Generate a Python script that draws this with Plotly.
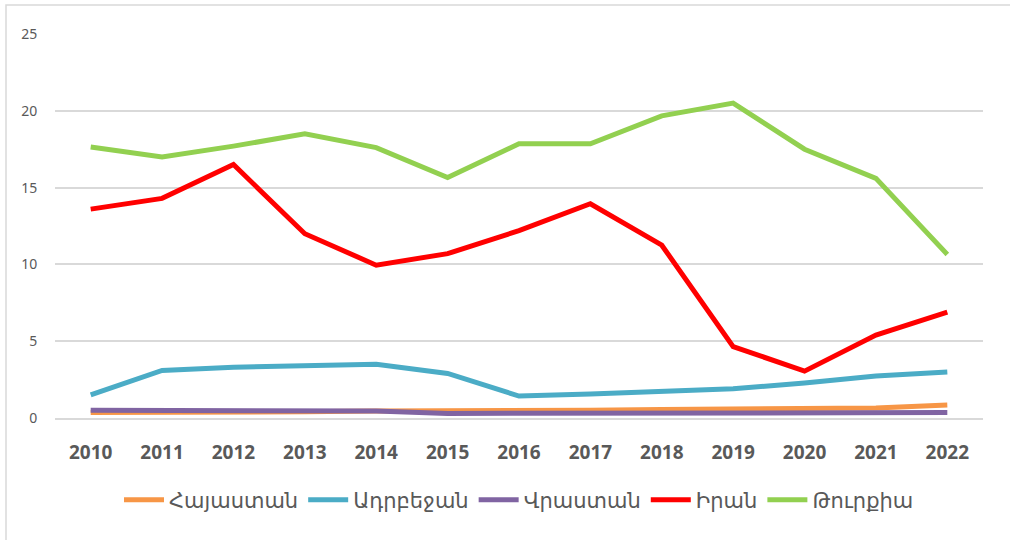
import plotly.graph_objects as go

years = ["2010", "2011", "2012", "2013", "2014", "2015", "2016", "2017", "2018", "2019", "2020", "2021", "2022"]
armenia = [0.35, 0.35, 0.35, 0.4, 0.45, 0.45, 0.45, 0.5, 0.55, 0.6, 0.65, 0.65, 0.85]
azerbaijan = [1.5, 3.1, 3.3, 3.4, 3.5, 2.9, 1.43, 1.56, 1.7, 1.9, 2.28, 2.73, 3.0]
georgia = [0.5, 0.5, 0.5, 0.45, 0.45, 0.3, 0.3, 0.3, 0.35, 0.3, 0.3, 0.3, 0.35]
iran = [13.6, 14.3, 16.5, 12.0, 9.95, 10.7, 12.2, 13.95, 11.25, 4.65, 3.05, 5.4, 6.9]
turkey = [17.65, 17.0, 17.7, 18.5, 17.6, 15.65, 17.85, 17.85, 19.67, 20.5, 17.5, 15.6, 10.65]

series = [
    ("Հայաստան", armenia, "#F79646"),
    ("Ադրբեջան", azerbaijan, "#4BACC6"),
    ("Վրաստան", georgia, "#8064A2"),
    ("Իրան", iran, "#FF0000"),
    ("Թուրքիա", turkey, "#92D050"),
]

fig = go.Figure()
for name, vals, color in series:
    fig.add_trace(go.Scatter(x=years, y=vals, name=name, mode="lines",
                             line=dict(color=color, width=5)))

font_fam = "Noto Sans, DejaVu Sans, sans-serif"
fig.update_layout(
    width=1010, height=540,
    margin=dict(l=55, r=27, t=34, b=122),
    paper_bgcolor="white", plot_bgcolor="white",
    font=dict(family=font_fam),
    showlegend=True,
    legend=dict(orientation="h", x=0.5, xanchor="center", y=-0.214, yanchor="middle",
                font=dict(size=21, color="#595959"), itemwidth=40,
                traceorder="normal", tracegroupgap=0),
    xaxis=dict(type="category", showgrid=False, zeroline=False,
               showline=True, linecolor="#D9D9D9", linewidth=2,
               ticks="outside", ticklen=16, tickcolor="rgba(0,0,0,0)",
               tickfont=dict(size=19, color="#595959", family=font_fam, weight="bold"),
               range=[-0.5, 12.5], fixedrange=True),
    yaxis=dict(range=[0, 25], dtick=5, showgrid=True, gridcolor="#D9D9D9", gridwidth=1.5,
               zeroline=False, showline=False,
               ticks="outside", ticklen=14, tickcolor="rgba(0,0,0,0)",
               tickfont=dict(size=14, color="#595959")),
    shapes=[dict(type="rect", xref="paper", yref="paper",
                 x0=-49/928, x1=1 + 60/928, y0=-140/384, y1=1 + 29/384,
                 line=dict(color="#D9D9D9", width=1.5), layer="below")],
)

fig.write_html("out.html", config={"displayModeBar": False},
               post_script="document.body.style.margin='0';document.body.style.overflow='hidden';")
